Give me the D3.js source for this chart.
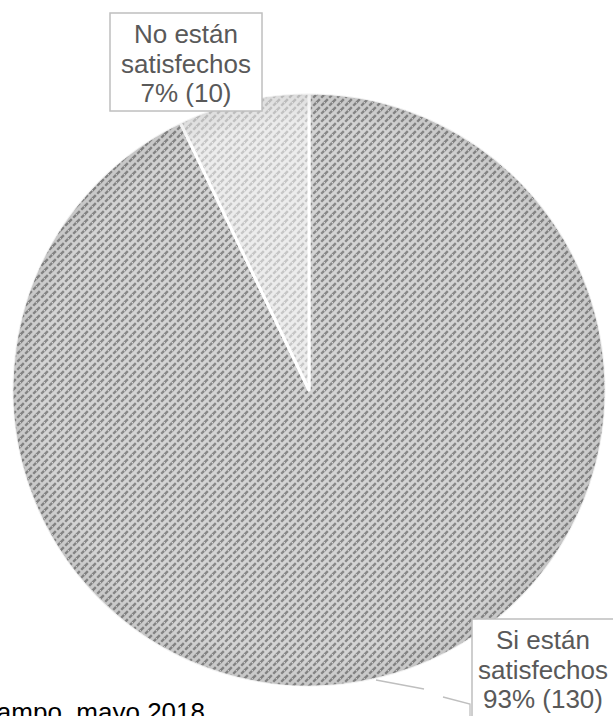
<!DOCTYPE html>
<html><head><meta charset="utf-8">
<script src="https://cdn.jsdelivr.net/npm/d3@7"></script>
<style>html,body{margin:0;padding:0;background:#fff;overflow:hidden}</style>
</head><body>
<svg id="c" width="613" height="716"></svg>
<script>
const categories = ["Si están satisfechos", "No están satisfechos"];
const values = [130, 10];
const percents = ["93%", "7%"];
const source = "Fuente: Trabajo de campo, mayo 2018";

const svg = d3.select("#c");
const defs = svg.append("defs");
function hatch(id, bg, fg){
  const p = defs.append("pattern").attr("id", id).attr("patternUnits","userSpaceOnUse")
    .attr("width", 8).attr("height", 8);
  p.append("rect").attr("width",8).attr("height",8).attr("fill",bg);
  p.append("path").attr("d","M-2,2 L2,-2 M0,8 L8,0 M6,10 L10,6")
    .attr("stroke",fg).attr("stroke-width",2.4).attr("stroke-dasharray","4,2");
}
hatch("pBig", "#d4d4d4", "#888888");
hatch("pSmall", "#ececec", "#c6c6c6");
const rg = defs.append("radialGradient").attr("id","shade");
rg.append("stop").attr("offset","0.9").attr("stop-color","#000").attr("stop-opacity",0);
rg.append("stop").attr("offset","0.99").attr("stop-color","#000").attr("stop-opacity",0.06);
rg.append("stop").attr("offset","1").attr("stop-color","#fff").attr("stop-opacity",0.2);

const cx = 309, cy = 390, R = 297;
const pie = d3.pie().sort(null).value(d => d)(values);
const arc = d3.arc().innerRadius(0).outerRadius(R);
const g = svg.append("g").attr("transform", `translate(${cx},${cy})`);
const fills = ["url(#pBig)", "url(#pSmall)"];
g.selectAll("path.s").data(pie).join("path").attr("class","s")
  .attr("d", arc).attr("fill", (d,i) => fills[i])
  .attr("stroke", "#fff").attr("stroke-width", 3).attr("stroke-linejoin","round");
g.append("circle").attr("r", R).attr("fill","url(#shade)").attr("pointer-events","none");

// leader line for big slice
const lead = d3.line();
svg.append("path").attr("d", lead([[376,680],[424,689]]))
  .attr("fill","none").attr("stroke","#bfbfbf").attr("stroke-width",1.3);
svg.append("path").attr("d", lead([[443,697],[470,704],[470,716]]))
  .attr("fill","none").attr("stroke","#bfbfbf").attr("stroke-width",1.3);

function labelBox(x, y, w, h, lines, tx){
  svg.append("rect").attr("x",x).attr("y",y).attr("width",w).attr("height",h)
    .attr("fill","#fff").attr("stroke","#bfbfbf").attr("stroke-width",1.5);
  const t = svg.append("text").attr("font-family","'Liberation Sans', Arial, sans-serif")
    .attr("font-size",26).attr("fill","#595959").attr("text-anchor","middle");
  lines.forEach((l,i)=> t.append("tspan").attr("x",tx).attr("y", y + 30 + i*29.5).text(l));
}
labelBox(110, 13, 152, 98, ["No están", "satisfechos", `${percents[1]} (${values[1]})`], 186);
labelBox(472, 619, 150, 110, ["Si están", "satisfechos", `${percents[0]} (${values[0]})`], 543);

svg.append("text").attr("x", 205).attr("y", 721).attr("text-anchor","end")
  .attr("font-family","'Liberation Sans', Arial, sans-serif").attr("font-size",26)
  .attr("fill","#000").text(source);
</script>
</body></html>
